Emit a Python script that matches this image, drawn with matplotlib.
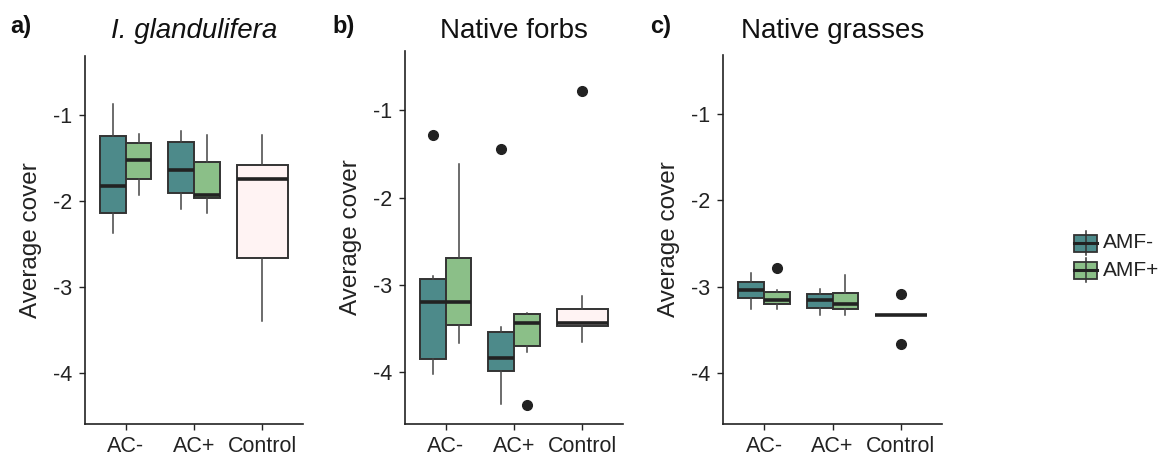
import matplotlib
matplotlib.use("Agg")
import matplotlib.pyplot as plt
from matplotlib.patches import Rectangle

plt.rcParams["font.family"] = ["Liberation Sans", "DejaVu Sans"]

# categories and groups
categories = ["AC-", "AC+", "Control"]
groups = ["AMF-", "AMF+"]
panel_labels = ["a)", "b)", "c)"]
panel_titles = ["I. glandulifera", "Native forbs", "Native grasses"]

# box stats: (whislo, q1, med, q3, whishi, fliers)
igl_amf_minus = [(-2.37, -2.14, -1.83, -1.25, -0.88, []),
                 (-2.09, -1.91, -1.64, -1.32, -1.19, [])]
igl_amf_plus = [(-1.93, -1.75, -1.53, -1.33, -1.23, []),
                (-2.14, -1.97, -1.93, -1.55, -1.24, [])]
igl_control = (-3.39, -2.66, -1.75, -1.58, -1.24, [])

forb_amf_minus = [(-4.02, -3.85, -3.19, -2.93, -2.90, [-1.28]),
                  (-4.36, -3.98, -3.83, -3.54, -3.48, [-1.44])]
forb_amf_plus = [(-3.66, -3.46, -3.19, -2.69, -1.61, []),
                 (-3.77, -3.70, -3.43, -3.33, -3.32, [-4.37])]
forb_control = (-3.65, -3.47, -3.43, -3.27, -3.12, [-0.78])

grass_amf_minus = [(-3.26, -3.13, -3.04, -2.95, -2.84, []),
                   (-3.33, -3.25, -3.15, -3.09, -3.03, [])]
grass_amf_plus = [(-3.26, -3.20, -3.15, -3.06, -3.04, [-2.79]),
                  (-3.33, -3.26, -3.20, -3.07, -2.87, [])]
grass_control = (-3.33, -3.33, -3.33, -3.33, -3.33, [-3.08, -3.66])

panels = [
    (igl_amf_minus, igl_amf_plus, igl_control),
    (forb_amf_minus, forb_amf_plus, forb_control),
    (grass_amf_minus, grass_amf_plus, grass_control),
]

col_minus = "#4d8a8a"
col_plus = "#8bbf88"
col_control = "#fff3f3"
edge = "#333333"

W, H = 1164, 457
# axes boxes in pixels: left, right, top, bottom
axes_px = [(85, 303, 56, 424), (405, 623, 51, 424), (723, 942, 55, 424)]
label_x = [10, 332, 650]


def to_stats(t):
    return dict(whislo=t[0], q1=t[1], med=t[2], q3=t[3], whishi=t[4], fliers=t[5])


fig = plt.figure(figsize=(W / 100, H / 100), dpi=100)

for i, (minus, plus, control) in enumerate(panels):
    l, r, t, b = axes_px[i]
    ax = fig.add_axes([l / W, 1 - b / H, (r - l) / W, (b - t) / H])
    specs = []
    for k in range(2):
        specs.append((to_stats(minus[k]), k - 0.1875, 0.375, col_minus))
        specs.append((to_stats(plus[k]), k + 0.1875, 0.375, col_plus))
    specs.append((to_stats(control), 2, 0.75, col_control))
    for st, pos, wd, col in specs:
        ax.bxp([st], positions=[pos], widths=wd, patch_artist=True,
               showcaps=False,
               boxprops=dict(facecolor=col, edgecolor=edge, linewidth=1.4),
               medianprops=dict(color="#222222", linewidth=2.6),
               whiskerprops=dict(color="#444444", linewidth=1.1),
               flierprops=dict(marker="o", markerfacecolor="#222222",
                               markeredgecolor="#222222", markersize=7))
    ax.set_xlim(-0.6, 2.6)
    ax.set_ylim(-4.59, -0.32)
    ax.set_xticks(range(3))
    ax.set_xticklabels(categories)
    ax.set_yticks([-4, -3, -2, -1])
    ax.set_yticklabels(["-4", "-3", "-2", "-1"])
    ax.tick_params(labelsize=15.5, length=4, width=1, colors="#222222",
                   labelcolor="#222222", pad=5)
    for s in ["top", "right"]:
        ax.spines[s].set_visible(False)
    for s in ["left", "bottom"]:
        ax.spines[s].set_linewidth(1.2)
        ax.spines[s].set_color("#222222")
    ax.set_ylabel("Average cover", fontsize=17.5, color="#222222")
    ax.yaxis.set_label_coords(-0.198, 0.5)

    fig.text(label_x[i] / W, 1 - 33 / H, panel_labels[i], fontsize=17,
             fontweight="bold", va="baseline", color="#111111")
    fig.text((l + r) / 2 / W, 1 - 38 / H, panel_titles[i], fontsize=20,
             ha="center", va="baseline", color="#111111",
             style="italic" if i == 0 else "normal")

# legend drawn by hand as small boxplot keys
lax = fig.add_axes([0, 0, 1, 1], facecolor="none")
lax.set_xlim(0, W)
lax.set_ylim(H, 0)
lax.axis("off")
for name, col, yc in zip(groups, [col_minus, col_plus], [243, 270]):
    lax.plot([1085.5, 1085.5], [yc - 12, yc + 12], color=edge, lw=1.1)
    lax.add_patch(Rectangle((1074, yc - 8.5), 23, 17, facecolor=col,
                            edgecolor=edge, linewidth=1.3))
    lax.plot([1074, 1097], [yc, yc], color="#222222", lw=2.2)
    lax.text(1103, yc, name, fontsize=15, va="center", color="#222222")

fig.savefig("out.png", dpi=100)
